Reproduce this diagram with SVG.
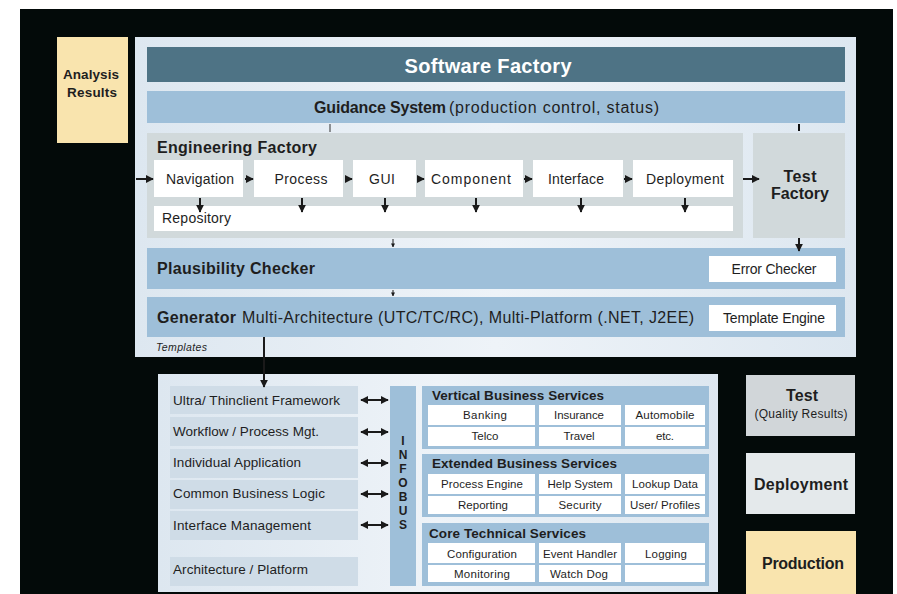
<svg xmlns="http://www.w3.org/2000/svg" width="897" height="594" viewBox="0 0 897 594">
  <defs>
    <marker id="ah" viewBox="0 0 10 10" refX="9" refY="5" markerWidth="4" markerHeight="4" orient="auto-start-reverse" markerUnits="strokeWidth">
      <path d="M0,0 L10,5 L0,10 z" fill="#1a1a1a"/>
    </marker>
    <linearGradient id="panel" x1="0" y1="0" x2="1" y2="0">
      <stop offset="0" stop-color="#dde7f0"/>
      <stop offset="0.5" stop-color="#eef3f8"/>
      <stop offset="1" stop-color="#dde7f0"/>
    </linearGradient>
    <style>
      text { font-family: "Liberation Sans", Arial, sans-serif; fill: #1e1e1e; }
      .b { font-weight: bold; }
      .node { font-size: 14px; text-anchor: middle; }
      .cell { font-size: 11.5px; text-anchor: middle; }
      .lay { font-size: 13.5px; }
      .ttl { font-size: 13.5px; font-weight: bold; }
      .sec { font-size: 16px; font-weight: bold; }
      .big { font-size: 16px; font-weight: bold; text-anchor: middle; }
      .bus { font-size: 12px; font-weight: bold; text-anchor: middle; }
      .wbox { fill: #ffffff; }
      .blue { fill: #9ebfd9; }
      .lbox { fill: #cfdce7; }
      .conn { stroke: #1a1a1a; stroke-width: 2; fill: none; }
    </style>
  </defs>

  <rect x="0" y="0" width="897" height="594" fill="#ffffff"/>
  <rect x="20" y="9" width="873" height="585" fill="#030a09"/>

  <g id="analysis-results">
    <rect x="57" y="37" width="71" height="106" fill="#f9e4ae"/>
    <text x="91" y="79" class="b" font-size="13.5" text-anchor="middle" textLength="56">Analysis</text>
    <text x="92" y="97" class="b" font-size="13.5" text-anchor="middle" textLength="50">Results</text>
  </g>

  <g id="software-factory">
    <rect x="135" y="37" width="721" height="320" fill="url(#panel)"/>
    <rect x="147" y="47" width="698" height="35" fill="#4e7385"/>
    <text x="488" y="73" class="b" font-size="20" text-anchor="middle" textLength="167" style="fill:#ffffff">Software Factory</text>
  </g>

  <g id="guidance-system">
    <rect x="147" y="91" width="698" height="32" class="blue"/>
    <text x="314" y="113" class="sec" textLength="132">Guidance System</text>
    <text x="449" y="113" font-size="16" textLength="210">(production control, status)</text>
  </g>

  <g id="engineering-factory">
    <rect x="147" y="133" width="596" height="105" fill="#d1d9db"/>
    <text x="157" y="153" class="sec" textLength="160">Engineering Factory</text>
  </g>

  <g id="navigation"><rect x="154" y="160" width="89" height="37" class="wbox"/><text x="200" y="184" class="node" textLength="68">Navigation</text></g>
  <g id="process"><rect x="254" y="160" width="89" height="37" class="wbox"/><text x="301" y="184" class="node" textLength="53">Process</text></g>
  <g id="gui"><rect x="353" y="160" width="63" height="37" class="wbox"/><text x="382" y="184" class="node" textLength="26">GUI</text></g>
  <g id="component"><rect x="425" y="160" width="98" height="37" class="wbox"/><text x="471" y="184" class="node" textLength="80">Component</text></g>
  <g id="interface"><rect x="533" y="160" width="90" height="37" class="wbox"/><text x="576" y="184" class="node" textLength="56">Interface</text></g>
  <g id="deployment"><rect x="633" y="160" width="100" height="37" class="wbox"/><text x="685" y="184" class="node" textLength="78">Deployment</text></g>
  <g id="repository"><rect x="154" y="206" width="579" height="25" class="wbox"/><text x="162" y="223" class="node" text-anchor="start" style="text-anchor:start" textLength="69">Repository</text></g>

  <g id="test-factory">
    <rect x="753" y="133" width="92" height="105" fill="#d1d9db"/>
    <text x="800" y="182" class="big" font-size="15.5" textLength="33">Test</text>
    <text x="800" y="199" class="big" font-size="15.5" textLength="58">Factory</text>
  </g>

  <g id="plausibility-checker">
    <rect x="147" y="248" width="698" height="41" class="blue"/>
    <text x="157" y="274" class="sec" textLength="158">Plausibility Checker</text>
    <rect x="709" y="256" width="127" height="26" class="wbox"/>
    <text x="774" y="274" class="node" font-size="13.5" textLength="85">Error Checker</text>
  </g>

  <g id="generator">
    <rect x="147" y="297" width="698" height="40" class="blue"/>
    <text x="157" y="323" class="sec" textLength="79">Generator</text>
    <text x="242" y="323" font-size="16" textLength="452">Multi-Architecture (UTC/TC/RC), Multi-Platform (.NET, J2EE)</text>
    <rect x="709" y="305" width="127" height="26" class="wbox"/>
    <text x="774" y="323" class="node" font-size="13.5" textLength="102">Template Engine</text>
    <text x="156" y="351" font-size="10.5" font-style="italic" textLength="51">Templates</text>
  </g>

  <g id="target-platform">
    <rect x="158" y="374" width="560" height="218" fill="url(#panel)"/>
    <rect x="170" y="386" width="188" height="28" class="lbox"/>
    <rect x="170" y="417" width="188" height="29" class="lbox"/>
    <rect x="170" y="449" width="188" height="29" class="lbox"/>
    <rect x="170" y="480" width="188" height="29" class="lbox"/>
    <rect x="170" y="511" width="188" height="29" class="lbox"/>
    <rect x="170" y="557" width="188" height="29" class="lbox"/>
    <text x="173" y="405" class="lay" textLength="167">Ultra/ Thinclient Framework</text>
    <text x="173" y="436" class="lay" textLength="146">Workflow / Process Mgt.</text>
    <text x="173" y="467" class="lay" textLength="128">Individual Application</text>
    <text x="173" y="498" class="lay" textLength="152">Common Business Logic</text>
    <text x="173" y="530" class="lay" textLength="138">Interface Management</text>
    <text x="173" y="574" class="lay" textLength="135">Architecture / Platform</text>
  </g>

  <g id="infobus">
    <rect x="390" y="386" width="26" height="200" class="blue"/>
    <text x="403" y="445" class="bus">I</text>
    <text x="403" y="459" class="bus">N</text>
    <text x="403" y="473" class="bus">F</text>
    <text x="403" y="487" class="bus">O</text>
    <text x="403" y="501" class="bus">B</text>
    <text x="403" y="515" class="bus">U</text>
    <text x="403" y="529" class="bus">S</text>
  </g>

  <g id="vertical-business-services">
    <rect x="422" y="386" width="287" height="63" class="blue"/>
    <text x="432" y="400" class="ttl" textLength="172">Vertical Business Services</text>
    <rect x="428" y="405" width="107" height="20" class="wbox"/>
    <rect x="539" y="405" width="82" height="20" class="wbox"/>
    <rect x="625" y="405" width="80" height="20" class="wbox"/>
    <rect x="428" y="427" width="107" height="19" class="wbox"/>
    <rect x="539" y="427" width="82" height="19" class="wbox"/>
    <rect x="625" y="427" width="80" height="19" class="wbox"/>
    <text x="485" y="419" class="cell" textLength="44">Banking</text>
    <text x="579" y="419" class="cell" textLength="50">Insurance</text>
    <text x="665" y="419" class="cell" textLength="59">Automobile</text>
    <text x="485" y="440" class="cell" textLength="27">Telco</text>
    <text x="579" y="440" class="cell" textLength="31">Travel</text>
    <text x="665" y="440" class="cell" textLength="18">etc.</text>
  </g>

  <g id="extended-business-services">
    <rect x="422" y="454" width="287" height="63" class="blue"/>
    <text x="432" y="468" class="ttl" textLength="185">Extended Business Services</text>
    <rect x="428" y="474" width="107" height="20" class="wbox"/>
    <rect x="539" y="474" width="82" height="20" class="wbox"/>
    <rect x="625" y="474" width="80" height="20" class="wbox"/>
    <rect x="428" y="496" width="107" height="18" class="wbox"/>
    <rect x="539" y="496" width="82" height="18" class="wbox"/>
    <rect x="625" y="496" width="80" height="18" class="wbox"/>
    <text x="482" y="488" class="cell" textLength="82">Process Engine</text>
    <text x="580" y="488" class="cell" textLength="65">Help System</text>
    <text x="665" y="488" class="cell" textLength="66">Lookup Data</text>
    <text x="483" y="509" class="cell" textLength="50">Reporting</text>
    <text x="580" y="509" class="cell" textLength="43">Security</text>
    <text x="665" y="509" class="cell" textLength="70">User/ Profiles</text>
  </g>

  <g id="core-technical-services">
    <rect x="422" y="523" width="287" height="63" class="blue"/>
    <text x="429" y="538" class="ttl" textLength="157">Core Technical Services</text>
    <rect x="428" y="543" width="107" height="20" class="wbox"/>
    <rect x="539" y="543" width="82" height="20" class="wbox"/>
    <rect x="625" y="543" width="80" height="20" class="wbox"/>
    <rect x="428" y="565" width="107" height="17" class="wbox"/>
    <rect x="539" y="565" width="82" height="17" class="wbox"/>
    <rect x="625" y="565" width="80" height="17" class="wbox"/>
    <text x="482" y="558" class="cell" textLength="70">Configuration</text>
    <text x="580" y="558" class="cell" textLength="74">Event Handler</text>
    <text x="666" y="558" class="cell" textLength="42">Logging</text>
    <text x="482" y="578" class="cell" textLength="56">Monitoring</text>
    <text x="579" y="578" class="cell" textLength="58">Watch Dog</text>
  </g>

  <g id="test">
    <rect x="746" y="375" width="109" height="61" fill="#d1d6d9"/>
    <text x="802" y="401" class="big" textLength="32">Test</text>
    <text x="801" y="418" font-size="12" text-anchor="middle" textLength="93">(Quality Results)</text>
  </g>
  <g id="deployment-stage">
    <rect x="746" y="453" width="109" height="61" fill="#e4e9eb"/>
    <text x="801" y="490" class="big" textLength="94">Deployment</text>
  </g>
  <g id="production">
    <rect x="746" y="531" width="110" height="63" fill="#f9e4ae"/>
    <text x="803" y="569" class="big" textLength="82">Production</text>
  </g>

  <g id="connectors">
    <!-- ticks under the guidance system -->
    <line x1="330" y1="124" x2="330" y2="132" stroke="#333" stroke-width="1"/>
    <line x1="799" y1="124" x2="799" y2="131" stroke="#111" stroke-width="2"/>
    <!-- engineering pipeline -->
    <line x1="136" y1="179" x2="153" y2="179" class="conn" marker-end="url(#ah)"/>
    <line x1="245" y1="179" x2="253" y2="179" class="conn" marker-end="url(#ah)"/>
    <line x1="345" y1="179" x2="352" y2="179" class="conn" marker-end="url(#ah)"/>
    <line x1="417" y1="179" x2="424" y2="179" class="conn" marker-end="url(#ah)"/>
    <line x1="524" y1="179" x2="532" y2="179" class="conn" marker-end="url(#ah)"/>
    <line x1="624" y1="179" x2="632" y2="179" class="conn" marker-end="url(#ah)"/>
    <line x1="743" y1="179" x2="759" y2="179" class="conn" marker-end="url(#ah)"/>
    <!-- down to the repository -->
    <line x1="200" y1="198" x2="200" y2="212" class="conn" marker-end="url(#ah)"/>
    <line x1="302" y1="198" x2="302" y2="212" class="conn" marker-end="url(#ah)"/>
    <line x1="385" y1="198" x2="385" y2="212" class="conn" marker-end="url(#ah)"/>
    <line x1="476" y1="198" x2="476" y2="212" class="conn" marker-end="url(#ah)"/>
    <line x1="581" y1="198" x2="581" y2="212" class="conn" marker-end="url(#ah)"/>
    <line x1="685" y1="198" x2="685" y2="212" class="conn" marker-end="url(#ah)"/>
    <!-- between the factory layers -->
    <line x1="393" y1="239" x2="393" y2="247" stroke="#1a1a1a" stroke-width="1" marker-end="url(#ah)"/>
    <line x1="393" y1="290" x2="393" y2="296" stroke="#1a1a1a" stroke-width="1" marker-end="url(#ah)"/>
    <line x1="799" y1="238" x2="799" y2="251" class="conn" marker-end="url(#ah)"/>
    <!-- generator to the target platform -->
    <line x1="264" y1="337" x2="264" y2="387" class="conn" marker-end="url(#ah)"/>
    <!-- layers to the infobus -->
    <line x1="361" y1="400" x2="388" y2="400" class="conn" marker-start="url(#ah)" marker-end="url(#ah)"/>
    <line x1="361" y1="432" x2="388" y2="432" class="conn" marker-start="url(#ah)" marker-end="url(#ah)"/>
    <line x1="361" y1="463" x2="388" y2="463" class="conn" marker-start="url(#ah)" marker-end="url(#ah)"/>
    <line x1="361" y1="494" x2="388" y2="494" class="conn" marker-start="url(#ah)" marker-end="url(#ah)"/>
    <line x1="361" y1="525" x2="388" y2="525" class="conn" marker-start="url(#ah)" marker-end="url(#ah)"/>
  </g>
</svg>
